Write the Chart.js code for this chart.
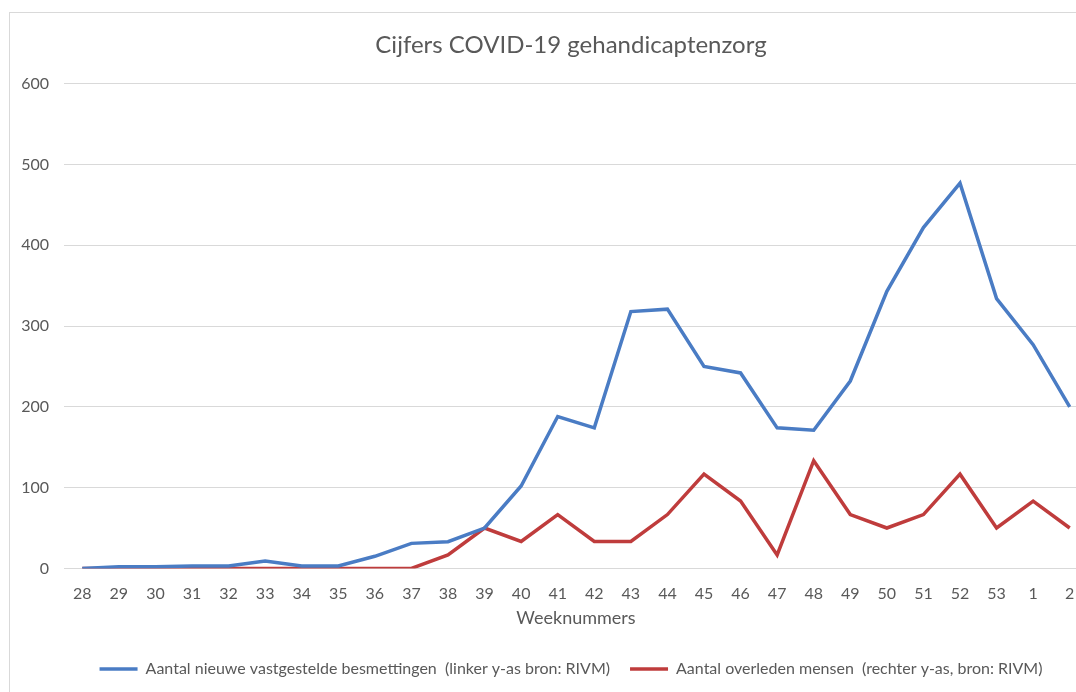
<!DOCTYPE html>
<html>
<head>
<meta charset="utf-8">
<script src="https://cdn.jsdelivr.net/npm/chart.js@4/dist/chart.umd.min.js"></script>
<style>
	html, body { margin: 0; padding: 0; background: #fff; overflow: hidden; }
	#frame { position: absolute; left: 9px; top: 12px; width: 1130px; height: 700px; border-left: 1px solid #d9d9d9; border-top: 1px solid #d9d9d9; }
	#wrap { position: absolute; left: 0; top: 0; width: 1122px; height: 680px; }
</style>
</head>
<body>
<div id="frame"><div id="wrap"><canvas id="covid"></canvas></div></div>
<script>
"use strict";

// weeknummers
var weeks = ["28", "29", "30", "31", "32", "33", "34", "35", "36", "37", "38", "39", "40", "41",
	"42", "43", "44", "45", "46", "47", "48", "49", "50", "51", "52", "53", "1", "2"];

// nieuwe besmettingen (linker y-as)
var besmettingen = [0, 2, 2, 3, 3, 9, 3, 3, 15, 31, 33, 50, 102, 188,
	174, 318, 321, 250, 242, 174, 171, 232, 343, 422, 477, 334, 277, 200];

// overleden (rechter y-as, valt buiten beeld)
var overleden = [0, 0, 0, 0, 0, 0, 0, 0, 0, 0, 1, 3, 2, 4,
	2, 2, 4, 7, 5, 1, 8, 4, 3, 4, 7, 3, 5, 3];

var leftTicks = [0, 100, 200, 300, 400, 500, 600];

Chart.defaults.font.family = "Lato, 'Open Sans', sans-serif";
Chart.defaults.color = "#595959";

var ctx = document.getElementById("covid");
var covidChart = new Chart(ctx, {
	type: 'line',
	data: {
		labels: weeks,
		datasets: [
			{
				label: "Aantal nieuwe vastgestelde besmettingen  (linker y-as bron: RIVM)",
				data: besmettingen,
				borderColor: "#4a7cc4",
				backgroundColor: "#4a7cc4",
				borderWidth: 3.5,
				pointRadius: 0,
				tension: 0,
				yAxisID: 'y'
			},
			{
				label: "Aantal overleden mensen  (rechter y-as, bron: RIVM)",
				data: overleden,
				borderColor: "#bf3c3c",
				backgroundColor: "#bf3c3c",
				borderWidth: 3.5,
				pointRadius: 0,
				tension: 0,
				yAxisID: 'y1'
			}
		]
	},
	options: {
		responsive: true,
		maintainAspectRatio: false,
		animation: false,
		layout: {
			padding: { left: 0, right: 0, top: 0, bottom: 6 }
		},
		plugins: {
			title: {
				display: true,
				text: "Cijfers COVID-19 gehandicaptenzorg",
				color: "#595959",
				font: { size: 24, weight: 'normal' },
				padding: { top: 18, bottom: 24 }
			},
			legend: {
				display: true,
				position: 'bottom',
				labels: {
					usePointStyle: true,
					pointStyle: 'line',
					pointStyleWidth: 38,
					color: "#595959",
					font: { size: 16 },
					padding: 20
				}
			},
			tooltip: { enabled: false }
		},
		scales: {
			x: {
				offset: true,
				grid: { display: false },
				border: { display: false },
				ticks: { color: "#595959", font: { size: 16, lineHeight: 1 }, maxRotation: 0, autoSkip: false, padding: 9 },
				title: {
					display: true,
					text: "Weeknummers",
					color: "#595959",
					font: { size: 18 },
					padding: { top: -3, bottom: 12 }
				}
			},
			y: {
				min: 0,
				max: 600,
				afterBuildTicks: function (axis) {
					axis.ticks = leftTicks.map(function (v) { return { value: v }; });
				},
				afterFit: function (axis) { axis.width = 54; },
				grid: { color: "#d9d9d9", lineWidth: 1, drawTicks: false },
				border: { display: false },
				ticks: { color: "#595959", font: { size: 16 }, padding: 15 }
			},
			y1: {
				// rechter as ligt buiten het zichtbare deel
				position: 'right',
				min: 0,
				max: 36,
				afterFit: function (axis) { axis.width = 44; },
				grid: { display: false },
				border: { display: false },
				ticks: { display: false }
			}
		}
	}
});
</script>
</body>
</html>
